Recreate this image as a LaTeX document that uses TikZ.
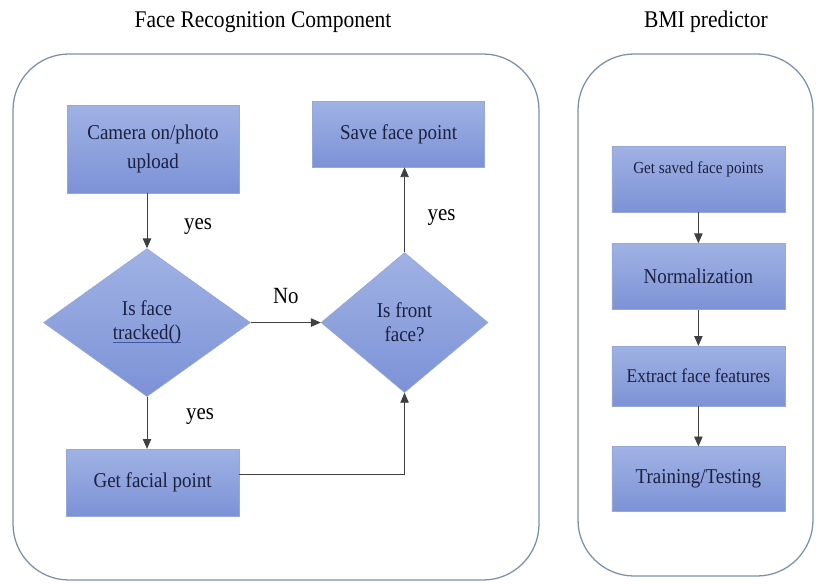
\documentclass[tikz,border=0pt]{standalone}
\usepackage{fontspec}
\setmainfont[FakeStretch=0.9]{Liberation Serif}
\usetikzlibrary{arrows.meta,calc,positioning,shapes.geometric}

\definecolor{boxtop}{RGB}{160,178,228}
\definecolor{boxbot}{RGB}{124,146,214}
\definecolor{boxline}{RGB}{150,168,215}
\definecolor{boxtext}{RGB}{28,32,64}
\definecolor{frameline}{RGB}{125,145,165}
\definecolor{ulblue}{RGB}{60,90,170}

\newsavebox{\ulbox}
\newcommand{\blueul}[1]{\sbox{\ulbox}{#1}\rlap{\color{ulblue}\rule[-2.5pt]{\wd\ulbox}{0.7pt}}\usebox{\ulbox}}

\begin{document}
\begin{tikzpicture}[auto,>={Triangle[length=7pt,width=6pt]}]
	\tikzstyle{block} = [draw=boxline, rectangle, top color=boxtop, bottom color=boxbot, text=boxtext, minimum width=4.3cm, align=center, font=\fontsize{15}{21}\selectfont]
	\tikzstyle{decision} = [draw=boxline, diamond, top color=boxtop, bottom color=boxbot, text=boxtext, inner sep=0pt, align=center, font=\fontsize{15}{17}\selectfont]
	\tikzstyle{line} = [draw=black!75, line width=0.6pt]
	\tikzstyle{frame} = [draw=frameline, line width=0.9pt, rounded corners=1.4cm]
	\tikzstyle{title} = [font=\fontsize{17}{20}\selectfont]
	\tikzstyle{answer} = [font=\fontsize{16.5}{19}\selectfont]
	
	\useasboundingbox (0,0) rectangle (20.425,-14.6);
	
	\draw [frame] (0.325,-1.35) rectangle (13.475,-14.5);
	\draw [frame] (14.45,-1.35) rectangle (20.325,-14.4);
	
	\node [title] (facetitle) at (6.575,-0.55) {Face Recognition Component};
	\node [title] (bmititle) at (17.65,-0.55) {BMI predictor};
	
	\node [block, minimum height=2.2cm] (camera) at (3.825,-3.725) {Camera on/photo\\upload};
	\node [decision, minimum width=5.175cm, minimum height=3.7cm, below = 1.375cm of camera, xshift=-0.15cm] (tracked) {Is face\\\blueul{tracked()}};
	\node [block, minimum width=4.325cm, minimum height=1.675cm, below = 1.3cm of tracked, xshift=0.14cm] (facial) {Get facial point};
	\node [decision, minimum width=4.175cm, minimum height=3.5cm, right = 1.75cm of tracked] (front) {Is front\\face?};
	\node [block, minimum height=1.65cm, above = 2.125cm of front, xshift=-0.15cm] (save) {Save face point};
	
	\node [block, minimum width=4.325cm, minimum height=1.65cm, text depth=0.55cm, font=\fontsize{12}{14}\selectfont] (saved) at (17.46,-4.475) {Get saved face points};
	\node [block, minimum width=4.325cm, minimum height=1.65cm, below = 0.775cm of saved] (norm) {Normalization};
	\node [block, minimum width=4.325cm, minimum height=1.5cm, below = 0.9cm of norm, font=\fontsize{13.8}{16}\selectfont] (extract) {Extract face features};
	\node [block, minimum width=4.325cm, minimum height=1.625cm, below = 1cm of extract] (train) {Training/Testing};
	
	\draw [line,->] (tracked.north |- camera.south) --node[answer, right=0.8cm, pos=0.6]{yes} (tracked.north);
	\draw [line,->] (tracked.south) --node[answer, right=0.85cm, pos=0.37]{yes} (tracked.south |- facial.north);
	\draw [line,->] (tracked.east) --node[answer, above=0.35cm]{No} (front.west);
	\draw [line,->] ([yshift=0.2cm]facial.east) -| (front.south);
	\draw [line,->] (front.north) --node[answer, right=0.45cm, pos=0.41]{yes} (front.north |- save.south);
	
	\draw [line,->] (saved) -- (norm);
	\draw [line,->] (norm) -- (extract);
	\draw [line,->] (extract) -- (train);
	
\end{tikzpicture}
\end{document}
